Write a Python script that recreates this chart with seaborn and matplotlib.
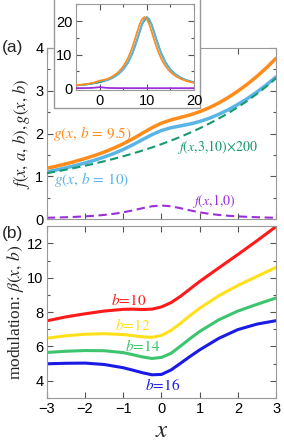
import numpy as np
import pandas as pd
import seaborn as sns
import matplotlib.pyplot as plt
from matplotlib.patches import Rectangle
from matplotlib.ticker import MultipleLocator

# panel (a): x grid and curves
x_a = [-3, -2.75, -2.5, -2.25, -2, -1.75, -1.5, -1.25, -1, -0.75, -0.5, -0.25, 0,
       0.25, 0.5, 0.75, 1, 1.25, 1.5, 1.75, 2, 2.25, 2.5, 2.75, 3]
g_b95 = [1.188, 1.238, 1.292, 1.351, 1.416, 1.487, 1.567, 1.658, 1.761, 1.878, 2.007, 2.135, 2.243,
         2.319, 2.377, 2.436, 2.510, 2.603, 2.714, 2.844, 2.991, 3.155, 3.337, 3.538, 3.759]
g_b10 = [1.105, 1.150, 1.200, 1.253, 1.312, 1.377, 1.450, 1.533, 1.628, 1.737, 1.856, 1.974, 2.071,
         2.135, 2.179, 2.223, 2.281, 2.356, 2.449, 2.557, 2.680, 2.818, 2.971, 3.140, 3.325]
f_3_10 = [1.073, 1.113, 1.156, 1.201, 1.248, 1.299, 1.352, 1.409, 1.469, 1.533, 1.602, 1.674, 1.752,
          1.835, 1.924, 2.020, 2.122, 2.232, 2.351, 2.478, 2.616, 2.765, 2.927, 3.102, 3.293]
f_1_0 = [0.032, 0.037, 0.044, 0.053, 0.064, 0.078, 0.098, 0.124, 0.159, 0.204, 0.255, 0.300, 0.318,
         0.300, 0.255, 0.204, 0.159, 0.124, 0.098, 0.078, 0.064, 0.053, 0.044, 0.037, 0.032]

# inset
x_in = [-5, -4.5, -4, -3.5, -3, -2.5, -2, -1.5, -1, -0.5, 0, 0.5, 1, 1.5, 2, 2.5, 3, 3.5, 4, 4.5,
        5, 5.5, 6, 6.5, 7, 7.5, 8, 8.5, 9, 9.5, 10, 10.5, 11, 11.5, 12, 12.5, 13, 13.5, 14, 14.5,
        15, 15.5, 16, 16.5, 17, 17.5, 18, 18.5, 19, 19.5, 20]
g_b95_in = [0.883, 0.947, 1.018, 1.097, 1.188, 1.292, 1.416, 1.567, 1.761, 2.007, 2.242, 2.377, 2.510,
            2.714, 2.991, 3.337, 3.759, 4.268, 4.885, 5.632, 6.541, 7.649, 8.997, 10.617, 12.530,
            14.697, 16.982, 19.103, 20.651, 21.224, 20.650, 19.102, 16.980, 14.694, 12.526, 10.612,
            8.990, 7.641, 6.531, 5.619, 4.868, 4.246, 3.729, 3.295, 2.928, 2.617, 2.352, 2.123,
            1.925, 1.753, 1.603]
g_b10_in = [0.828, 0.886, 0.951, 1.023, 1.105, 1.200, 1.312, 1.450, 1.628, 1.857, 2.070, 2.179, 2.281,
            2.449, 2.680, 2.971, 3.325, 3.751, 4.263, 4.881, 5.629, 6.539, 7.648, 8.995, 10.616,
            12.530, 14.696, 16.981, 19.103, 20.650, 21.224, 20.650, 19.102, 16.979, 14.693, 12.526,
            10.612, 8.990, 7.641, 6.531, 5.618, 4.867, 4.245, 3.728, 3.294, 2.928, 2.617, 2.352,
            2.123, 1.925, 1.753]
x_in_coarse = list(range(-5, 21))
f_3_10_in = [0.816, 0.932, 1.073, 1.248, 1.469, 1.752, 2.122, 2.616, 3.293, 4.244, 5.617, 7.639, 10.610,
             14.691, 19.099, 21.221, 19.099, 14.691, 10.610, 7.639, 5.617, 4.244, 3.293, 2.616, 2.122, 1.752]
f_1_0_in = [0.012, 0.019, 0.032, 0.064, 0.159, 0.318, 0.159, 0.064, 0.032, 0.019, 0.012, 0.009, 0.006,
            0.005, 0.004, 0.003, 0.003, 0.002, 0.002, 0.002, 0.002, 0.001, 0.001, 0.001, 0.001, 0.001]

# panel (b): modulation beta(x, b)
x_b = [-3, -2.5, -2, -1.5, -1, -0.75, -0.5, -0.25, 0, 0.25, 0.5, 0.75, 1, 1.5, 2, 2.5, 3]
beta_10 = [7.49, 7.72, 7.90, 8.06, 8.16, 8.17, 8.15, 8.17, 8.30, 8.55, 8.92, 9.35, 9.78, 10.57, 11.35, 12.15, 12.98]
beta_12 = [6.48, 6.62, 6.71, 6.74, 6.69, 6.63, 6.56, 6.53, 6.64, 6.93, 7.35, 7.80, 8.22, 8.95, 9.55, 10.08, 10.60]
beta_14 = [5.65, 5.72, 5.76, 5.75, 5.64, 5.52, 5.39, 5.30, 5.36, 5.60, 6.02, 6.46, 6.87, 7.55, 8.06, 8.45, 8.82]
beta_16 = [4.99, 5.02, 5.03, 4.95, 4.76, 4.62, 4.47, 4.35, 4.37, 4.63, 5.02, 5.42, 5.80, 6.47, 6.98, 7.30, 7.50]
b_values = [10, 12, 14, 16]

ORANGE = '#ff8c1a'
LBLUE = '#5ab4e6'
TEAL = '#159a6e'
PURPLE = '#9b30d9'
b_colors = ['#ff1a1a', '#ffe01a', '#3dc46e', '#1a1ae6']

sns.set_style('ticks')
plt.rcParams['font.family'] = ['Liberation Sans', 'DejaVu Sans']
plt.rcParams['mathtext.fontset'] = 'stix'
plt.rcParams['axes.edgecolor'] = '#999999'
plt.rcParams['xtick.color'] = '#555555'
plt.rcParams['ytick.color'] = '#555555'
plt.rcParams['xtick.labelcolor'] = 'black'
plt.rcParams['ytick.labelcolor'] = 'black'


def style_ticks(ax, size=10.5):
    ax.tick_params(which='both', direction='in', top=True, right=True, labelsize=size)
    ax.tick_params(axis='x', pad=3)
    ax.tick_params(axis='y', pad=2.5)
    ax.tick_params(which='major', length=4, width=0.8)
    ax.tick_params(which='minor', length=2.5, width=0.8)


fig = plt.figure(figsize=(2.84, 4.40), dpi=100)
ax_a = fig.add_axes([0.165, 0.502, 0.807, 0.389])
ax_b = fig.add_axes([0.165, 0.0955, 0.807, 0.3905])

dash = (0, (4, 2.2))
sns.lineplot(x=x_a, y=f_1_0, ax=ax_a, color=PURPLE, lw=1.5, linestyle=dash)
sns.lineplot(x=x_a, y=f_3_10, ax=ax_a, color=TEAL, lw=1.5, linestyle=dash, zorder=4)
sns.lineplot(x=x_a, y=g_b10, ax=ax_a, color=LBLUE, lw=2.5, zorder=3)
sns.lineplot(x=x_a, y=g_b95, ax=ax_a, color=ORANGE, lw=2.5, zorder=3)
ax_a.set_xlim(-3, 3)
ax_a.set_ylim(0, 4)
ax_a.set_yticks([0, 1, 2, 3, 4])
ax_a.yaxis.set_minor_locator(MultipleLocator(0.5))
ax_a.set_xticks(range(-3, 4))
ax_a.set_xticklabels([])
style_ticks(ax_a)
ax_a.set_xlabel('')
ax_a.set_ylabel(r'$f(x,\,a,\,b),g(x,\,b)$', fontsize=12, labelpad=2)

ax_a.text(-2.84, 2.0, r'$g(x,\,b\,=\,9.5)$', color=ORANGE, fontsize=11, va='center')
ax_a.text(-2.80, 0.93, r'$g(x,\,b\,=\,10)$', color=LBLUE, fontsize=11, va='center')
ax_a.text(0.42, 1.69, r'$f(x{,}3{,}10)\!\times\!200$', color=TEAL, fontsize=10, va='center')
ax_a.text(0.80, 0.42, r'$f(x{,}1{,}0)$', color=PURPLE, fontsize=10, va='center')

# inset with its white frame
fig.patches.append(Rectangle((0.190, 0.755), 0.514, 0.25, transform=fig.transFigure,
                             facecolor='white', edgecolor='#999999', lw=1.0, zorder=5))
ax_in = fig.add_axes([0.268, 0.795, 0.415, 0.195], zorder=6)
sns.lineplot(x=x_in_coarse, y=f_3_10_in, ax=ax_in, color=TEAL, lw=1.2, zorder=1)
sns.lineplot(x=x_in, y=g_b10_in, ax=ax_in, color=LBLUE, lw=1.3, zorder=2)
sns.lineplot(x=x_in, y=g_b95_in, ax=ax_in, color=ORANGE, lw=1.3, zorder=3)
sns.lineplot(x=x_in_coarse, y=f_1_0_in, ax=ax_in, color=PURPLE, lw=1.3, zorder=4)
ax_in.set_xlim(-5, 20)
ax_in.set_ylim(-0.6, 25)
ax_in.set_xticks([0, 10, 20])
ax_in.set_yticks([0, 10, 20])
ax_in.xaxis.set_minor_locator(MultipleLocator(5))
ax_in.yaxis.set_minor_locator(MultipleLocator(5))
style_ticks(ax_in)

# panel (b)
for vals, col in zip([beta_10, beta_12, beta_14, beta_16], b_colors):
    sns.lineplot(x=x_b, y=vals, ax=ax_b, color=col, lw=2.2)
ax_b.set_xlim(-3, 3)
ax_b.set_ylim(3, 13)
ax_b.set_yticks([4, 6, 8, 10, 12])
ax_b.yaxis.set_minor_locator(MultipleLocator(1))
ax_b.set_xticks(range(-3, 4))
ax_b.set_xticklabels(['\u22123', '\u22122', '\u22121', '0', '1', '2', '3'])
style_ticks(ax_b)
ax_b.set_xlabel(r'$x$', fontsize=18, labelpad=1)
ax_b.set_ylabel(r'modulation: $\beta(x,\,b)$', fontsize=12.5, family='Liberation Serif', labelpad=1)

label_pos = [(-0.85, 8.71), (-0.75, 7.26), (-0.49, 6.0), (0.04, 3.77)]
for b, col, (tx, ty) in zip(b_values, b_colors, label_pos):
    ax_b.text(tx, ty, rf'$b\!=\!{b}$', color=col, fontsize=11, ha='center', va='center')

fig.text(0.005, 0.893, '(a)', fontsize=12.5, va='center')
fig.text(0.005, 0.470, '(b)', fontsize=12.5, va='center')

fig.savefig('out.png', dpi=100)
